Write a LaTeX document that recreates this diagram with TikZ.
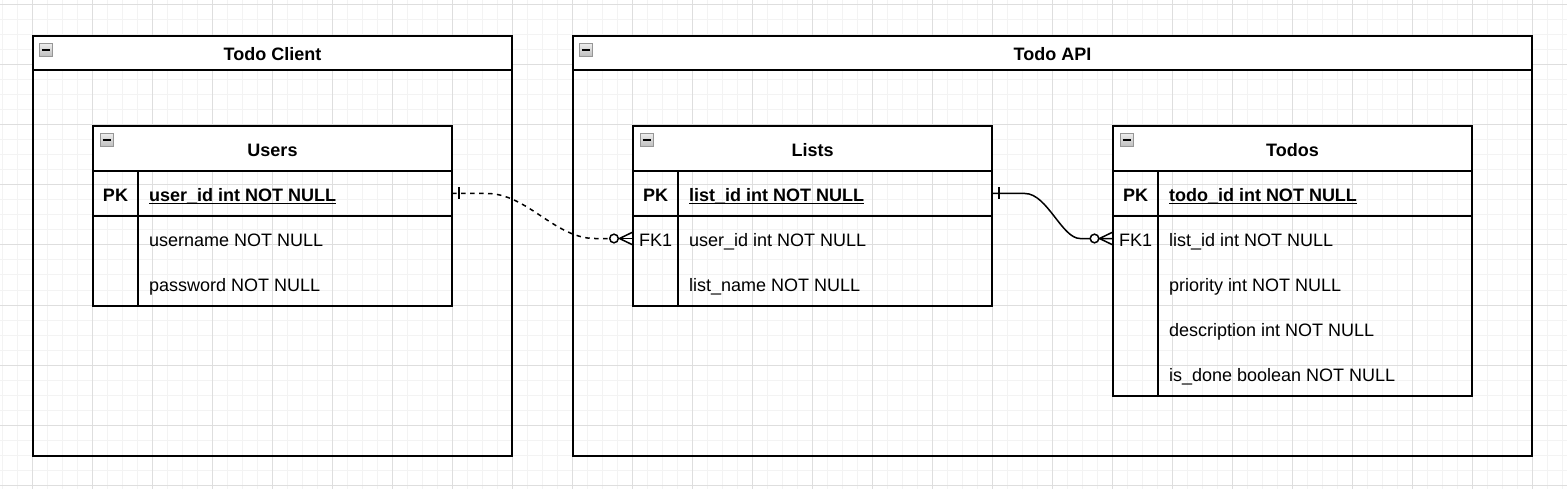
\documentclass[tikz,border=0pt]{standalone}
\usepackage{fontspec}
\setmainfont{Liberation Sans}
\usetikzlibrary{calc}
\definecolor{gridmajor}{RGB}{222,222,222}
\definecolor{gridminor}{RGB}{243,243,243}
\definecolor{iconborder}{RGB}{150,150,150}
\definecolor{icontop}{RGB}{236,236,236}
\definecolor{iconbottom}{RGB}{190,190,190}
\tikzset{
  outline/.style={draw=black, line width=1.5bp},
  boxbase/.style={outline, anchor=north west, inner sep=0pt, outer sep=0pt},
  contbox/.style={boxbase, minimum width=479bp, minimum height=420bp},
  conthdr/.style={boxbase, fill=white, minimum height=34bp},
  tblhdr/.style={boxbase, fill=white, minimum width=359bp, minimum height=45bp},
  tblrow/.style={anchor=north west, inner sep=0pt, outer sep=0pt, minimum width=359bp, minimum height=45bp},
  lbl/.style={inner sep=0pt, outer sep=0pt, text height=13bp, text depth=0pt, yshift=-1.5bp,
    font=\fontsize{18bp}{21bp}\selectfont},
  titletxt/.style={lbl, font=\fontsize{18bp}{21bp}\selectfont\bfseries},
  keytxt/.style={lbl},
  fieldtxt/.style={lbl, anchor=west},
  conn/.style={line width=1.5bp, draw=black},
  dashconn/.style={conn, dash pattern=on 4.5bp off 4.5bp},
  collapse/.pic={
    \draw[draw=iconborder, line width=1bp, top color=icontop, bottom color=iconbottom] (0,0) rectangle (13,13);
    \draw[line width=1.8bp] (2.5,6.5) -- (10.5,6.5);
  },
}
\begin{document}
\begin{tikzpicture}[x=1bp, y=-1bp]
\useasboundingbox (0,0) rectangle (1567,489);
% grid
\foreach \x in {2,17,...,1567} \draw[gridminor, line width=1bp] (\x,0) -- (\x,489);
\foreach \y in {5,20,...,489} \draw[gridminor, line width=1bp] (0,\y) -- (1567,\y);
\foreach \x in {32,92,...,1567} \draw[gridmajor, line width=1bp] (\x,0) -- (\x,489);
\foreach \y in {5,65,...,489} \draw[gridmajor, line width=1bp] (0,\y) -- (1567,\y);

% containers
\node[contbox] (client) at (33,36) {};
\node[conthdr, minimum width=479bp] (client-h) at (client.north west) {};
\node[titletxt] (client-t) at (client-h.center) {Todo Client};
\pic at ($(client.north west)+(6.5,7.5)$) {collapse};

\node[contbox, minimum width=959bp] (api) at (573,36) {};
\node[conthdr, minimum width=959bp] (api-h) at (api.north west) {};
\node[titletxt] (api-t) at (api-h.center) {Todo API};
\pic at ($(api.north west)+(6.5,7.5)$) {collapse};

% ---- Users table
\node[tblhdr] (users-h) at (93,126) {};
\node[titletxt] (users-t) at (users-h.center) {Users};
\pic at ($(users-h.north west)+(7,7.5)$) {collapse};
\node[tblrow] (users-pk) at (users-h.south west) {};
\node[tblrow] (users-r1) at (users-pk.south west) {};
\node[tblrow] (users-r2) at (users-r1.south west) {};
\draw[outline] (users-h.north west) rectangle (users-r2.south east);
\draw[outline] (users-pk.north west) -- (users-pk.north east);
\draw[outline] (users-pk.south west) -- (users-pk.south east);
\draw[outline] ($(users-pk.north west)+(45,0)$) -- ($(users-r2.south west)+(45,0)$);
\node[keytxt, font=\fontsize{18bp}{21bp}\selectfont\bfseries] (users-pkk) at ($(users-pk.west)+(22.5,0)$) {PK};
\node[fieldtxt, font=\fontsize{18bp}{21bp}\selectfont\bfseries] (users-pkt) at ($(users-pk.west)+(56,0)$) {user\_id int NOT NULL};
\draw[line width=1.3bp] ($(users-pkt.base west)+(0,2.2)$) -- ($(users-pkt.base east)+(0,2.2)$);
\node[fieldtxt] (users-r1t) at ($(users-r1.west)+(56,0)$) {username NOT NULL};
\node[fieldtxt] (users-r2t) at ($(users-r2.west)+(56,0)$) {password NOT NULL};

% ---- Lists table
\node[tblhdr] (lists-h) at (633,126) {};
\node[titletxt] (lists-t) at (lists-h.center) {Lists};
\pic at ($(lists-h.north west)+(7,7.5)$) {collapse};
\node[tblrow] (lists-pk) at (lists-h.south west) {};
\node[tblrow] (lists-fk) at (lists-pk.south west) {};
\node[tblrow] (lists-r2) at (lists-fk.south west) {};
\draw[outline] (lists-h.north west) rectangle (lists-r2.south east);
\draw[outline] (lists-pk.north west) -- (lists-pk.north east);
\draw[outline] (lists-pk.south west) -- (lists-pk.south east);
\draw[outline] ($(lists-pk.north west)+(45,0)$) -- ($(lists-r2.south west)+(45,0)$);
\node[keytxt, font=\fontsize{18bp}{21bp}\selectfont\bfseries] (lists-pkk) at ($(lists-pk.west)+(22.5,0)$) {PK};
\node[fieldtxt, font=\fontsize{18bp}{21bp}\selectfont\bfseries] (lists-pkt) at ($(lists-pk.west)+(56,0)$) {list\_id int NOT NULL};
\draw[line width=1.3bp] ($(lists-pkt.base west)+(0,2.2)$) -- ($(lists-pkt.base east)+(0,2.2)$);
\node[keytxt] (lists-fkk) at ($(lists-fk.west)+(22.5,0)$) {FK1};
\node[fieldtxt] (lists-fkt) at ($(lists-fk.west)+(56,0)$) {user\_id int NOT NULL};
\node[fieldtxt] (lists-r2t) at ($(lists-r2.west)+(56,0)$) {list\_name NOT NULL};

% ---- Todos table
\node[tblhdr] (todos-h) at (1113,126) {};
\node[titletxt] (todos-t) at (todos-h.center) {Todos};
\pic at ($(todos-h.north west)+(7,7.5)$) {collapse};
\node[tblrow] (todos-pk) at (todos-h.south west) {};
\node[tblrow] (todos-fk) at (todos-pk.south west) {};
\node[tblrow] (todos-r2) at (todos-fk.south west) {};
\node[tblrow] (todos-r3) at (todos-r2.south west) {};
\node[tblrow] (todos-r4) at (todos-r3.south west) {};
\draw[outline] (todos-h.north west) rectangle (todos-r4.south east);
\draw[outline] (todos-pk.north west) -- (todos-pk.north east);
\draw[outline] (todos-pk.south west) -- (todos-pk.south east);
\draw[outline] ($(todos-pk.north west)+(45,0)$) -- ($(todos-r4.south west)+(45,0)$);
\node[keytxt, font=\fontsize{18bp}{21bp}\selectfont\bfseries] (todos-pkk) at ($(todos-pk.west)+(22.5,0)$) {PK};
\node[fieldtxt, font=\fontsize{18bp}{21bp}\selectfont\bfseries] (todos-pkt) at ($(todos-pk.west)+(56,0)$) {todo\_id int NOT NULL};
\draw[line width=1.3bp] ($(todos-pkt.base west)+(0,2.2)$) -- ($(todos-pkt.base east)+(0,2.2)$);
\node[keytxt] (todos-fkk) at ($(todos-fk.west)+(22.5,0)$) {FK1};
\node[fieldtxt] (todos-fkt) at ($(todos-fk.west)+(56,0)$) {list\_id int NOT NULL};
\node[fieldtxt] (todos-r2t) at ($(todos-r2.west)+(56,0)$) {priority int NOT NULL};
\node[fieldtxt] (todos-r3t) at ($(todos-r3.west)+(56,0)$) {description int NOT NULL};
\node[fieldtxt] (todos-r4t) at ($(todos-r4.west)+(56,0)$) {is\_done boolean NOT NULL};

% ---- connector Users -> Lists (dashed)
\draw[dashconn] (users-pk.east) -- ++(35,0)
  .. controls +(40,0) and ($(lists-fk.west)+(-78,0)$) .. ($(lists-fk.west)+(-38,0)$) -- ($(lists-fk.west)+(-23,0)$);
\draw[conn] ($(lists-fk.west)+(-15,0)$) -- (lists-fk.west);
\draw[conn] ($(users-pk.east)+(7,-6)$) -- ($(users-pk.east)+(7,6)$);
\draw[conn, fill=white] ($(lists-fk.west)+(-19,0)$) circle (4.3bp);
\draw[conn] ($(lists-fk.west)+(0,-6.5)$) -- ($(lists-fk.west)+(-13.5,0)$) -- ($(lists-fk.west)+(0,6.5)$);

% ---- connector Lists -> Todos (solid)
\draw[conn] (lists-pk.east) -- ++(33,0)
  .. controls +(22,0) and ($(todos-fk.west)+(-51,0)$) .. ($(todos-fk.west)+(-33,0)$) -- (todos-fk.west);
\draw[conn] ($(lists-pk.east)+(7,-6)$) -- ($(lists-pk.east)+(7,6)$);
\draw[conn, fill=white] ($(todos-fk.west)+(-18.5,0)$) circle (4.3bp);
\draw[conn] ($(todos-fk.west)+(0,-6.5)$) -- ($(todos-fk.west)+(-13.5,0)$) -- ($(todos-fk.west)+(0,6.5)$);
\end{tikzpicture}
\end{document}
